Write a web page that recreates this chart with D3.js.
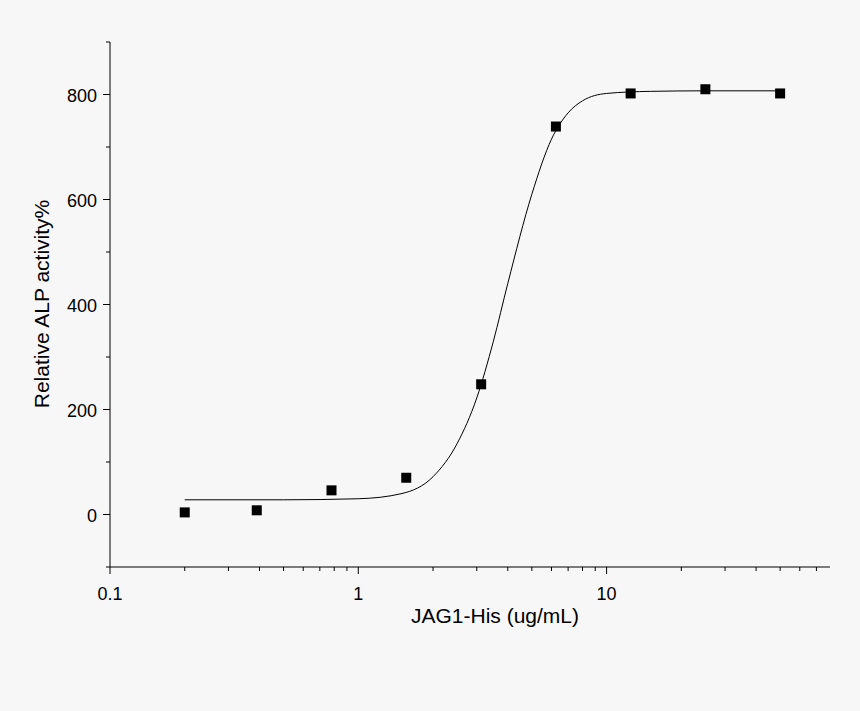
<!DOCTYPE html>
<html><head><meta charset="utf-8">
<script src="https://cdnjs.cloudflare.com/ajax/libs/d3/7.8.5/d3.min.js"></script>
<style>body{margin:0;background:#f7f7f7}</style></head>
<body><svg class="root"></svg>
<script>
const doseValues = [0.2, 0.39, 0.78, 1.56, 3.125, 6.25, 12.5, 25, 50];
const activityValues = [4, 8, 46, 70, 248, 739, 802, 810, 802];
const fitX = [0.2, 0.5, 1, 1.5, 2, 2.5, 3, 3.5, 4, 5, 6, 7, 8, 10, 15, 25, 50];
const fitY = [28, 28, 30, 40, 72, 135, 222, 330, 440, 610, 715, 765, 788, 802, 806, 807, 807];
const xTickLabels = ["0.1", "1", "10"];
const yTickValues = [0, 200, 400, 600, 800];

const width = 860, height = 711;
const font = "Liberation Sans, Arial";
const svg = d3.select(".root").attr("width", width).attr("height", height);
svg.append("rect").attr("width", width).attr("height", height).attr("fill", "#f7f7f7");

const x = d3.scaleLog().domain([0.1, 79.4]).range([110, 830]);
const y = d3.scaleLinear().domain([-100, 900]).range([567, 42]);

// x axis
const minor = [];
for (let e = -1; e <= 1; e++) for (let k = 2; k <= 9; k++) if (k * 10 ** e < 79.4) minor.push(k * 10 ** e);
const gx = svg.append("g").attr("transform", "translate(0,567)");
gx.append("line").attr("x1", 110).attr("x2", 830).attr("stroke", "#000");
gx.selectAll(".maj").data([0.1, 1, 10]).join("line")
  .attr("x1", d => x(d)).attr("x2", d => x(d)).attr("y2", 7).attr("stroke", "#000");
gx.selectAll(".min").data(minor).join("line")
  .attr("x1", d => x(d)).attr("x2", d => x(d)).attr("y2", 4).attr("stroke", "#000");
gx.selectAll("text").data([0.1, 1, 10]).join("text")
  .attr("x", d => x(d)).attr("y", 33).attr("text-anchor", "middle")
  .attr("font-family", font).attr("font-size", 18)
  .text((d, i) => xTickLabels[i]);

// y axis
const gy = svg.append("g").attr("transform", "translate(110,0)");
gy.append("line").attr("y1", 42).attr("y2", 567).attr("stroke", "#000");
gy.selectAll(".min").data(d3.range(-100, 901, 100)).join("line")
  .attr("y1", d => y(d)).attr("y2", d => y(d)).attr("x2", d => d % 200 === 0 ? -7 : -4).attr("stroke", "#000");
gy.selectAll("text").data(yTickValues).join("text")
  .attr("x", -13).attr("y", d => y(d) + 7).attr("text-anchor", "end")
  .attr("font-family", font).attr("font-size", 18)
  .text(d => d);

svg.append("text").attr("x", 495).attr("y", 623).attr("text-anchor", "middle")
  .attr("font-family", font).attr("font-size", 21).text("JAG1-His (ug/mL)");
svg.append("text").attr("transform", "translate(49,304) rotate(-90)").attr("text-anchor", "middle")
  .attr("font-family", font).attr("font-size", 21).text("Relative ALP activity%");

// fitted curve
const line = d3.line().x(d => x(d[0])).y(d => y(d[1])).curve(d3.curveMonotoneX);
svg.append("path").datum(fitX.map((v, i) => [v, fitY[i]]))
  .attr("d", line).attr("fill", "none").attr("stroke", "#000").attr("stroke-width", 1);

svg.selectAll(".pt").data(doseValues).join("rect")
  .attr("x", d => x(d) - 5).attr("y", (d, i) => y(activityValues[i]) - 5)
  .attr("width", 10).attr("height", 10).attr("fill", "#000");
</script></body></html>
